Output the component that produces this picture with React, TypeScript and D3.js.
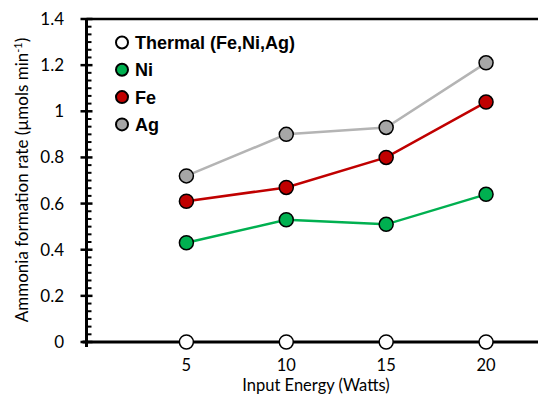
import React from "react";
import * as d3 from "d3";

const energies = [5, 10, 15, 20];
const thermal = [0, 0, 0, 0];
const ni = [0.43, 0.53, 0.51, 0.64];
const fe = [0.61, 0.67, 0.8, 1.04];
const ag = [0.72, 0.9, 0.93, 1.21];
const yTicks = [0, 0.2, 0.4, 0.6, 0.8, 1, 1.2, 1.4];
const xTicks = [5, 10, 15, 20];

const series = [
  { name: "Thermal (Fe,Ni,Ag)", values: thermal, fill: "#ffffff", line: "#000000" },
  { name: "Ni", values: ni, fill: "#00b050", line: "#00b050" },
  { name: "Fe", values: fe, fill: "#c00000", line: "#c00000" },
  { name: "Ag", values: ag, fill: "#a6a6a6", line: "#b4b4b4" },
];

export default function App() {
  const W = 538, H = 395;
  const x = d3.scaleLinear().domain([0, 22.6]).range([86.5, 538]);
  const y = d3.scaleLinear().domain([0, 1.4]).range([342, 19]);
  const minor = d3.range(0, 1.4001, 0.2 / 6).filter((v) => Math.abs(Math.round(v / 0.2) * 0.2 - v) > 1e-6);
  const line = d3.line<number>().x((_, i) => x(energies[i])).y((d) => y(d));
  const tickFont = "Lato, 'Open Sans', sans-serif";
  return (
    <svg width={W} height={H} style={{ position: "absolute", left: 0, top: 0 }}>
      <rect width={W} height={H} fill="#fff" />
      {/* top border */}
      <line x1={x(0)} x2={W} y1={y(1.4)} y2={y(1.4)} stroke="#000" strokeWidth={2.5} />
      {/* y axis */}
      <line x1={x(0)} x2={x(0)} y1={y(1.4) - 1} y2={y(0) + 5} stroke="#000" strokeWidth={3} />
      {yTicks.map((t) => (
        <g key={t}>
          <line x1={x(0) - 6} x2={x(0) + 6} y1={y(t)} y2={y(t)} stroke="#000" strokeWidth={2.5} />
          <text x={64} y={y(t) + 6} textAnchor="end" fontFamily={tickFont} fontSize={17} fill="#000">
            {d3.format("~g")(t)}
          </text>
        </g>
      ))}
      {minor.map((t, i) => (
        <line key={i} x1={x(0)} x2={x(0) + 5} y1={y(t)} y2={y(t)} stroke="#000" strokeWidth={2} />
      ))}
      {/* x axis */}
      <line x1={x(0) - 4} x2={W} y1={y(0)} y2={y(0)} stroke="#000" strokeWidth={3} />
      {xTicks.map((t) => (
        <text key={t} x={x(t)} y={371} textAnchor="middle" fontFamily={tickFont} fontSize={16.5} fill="#000">
          {t}
        </text>
      ))}
      <text x={316} y={391} textAnchor="middle" fontFamily={tickFont} fontSize={16.5} fill="#000">
        Input Energy (Watts)
      </text>
      <text
        transform={`translate(28, 180) rotate(-90)`}
        textAnchor="middle"
        fontFamily={tickFont}
        fontSize={17}
        fill="#000"
      >
        Ammonia formation rate (µmols min<tspan dy={-6} fontSize={11}>-1</tspan>
        <tspan dy={6}>)</tspan>
      </text>
      {/* series */}
      {series.map((s) => (
        <g key={s.name}>
          {s.name !== "Thermal (Fe,Ni,Ag)" && (
            <path d={line(s.values) || ""} fill="none" stroke={s.line} strokeWidth={2.5} />
          )}
          {s.values.map((v, i) => (
            <circle key={i} cx={x(energies[i])} cy={y(v)} r={7} fill={s.fill} stroke="#000" strokeWidth={1.5} />
          ))}
        </g>
      ))}
      {/* legend */}
      {series.map((s, i) => (
        <g key={s.name} transform={`translate(122, ${42.5 + i * 27.3})`}>
          <circle cx={0} cy={0} r={6} fill={s.fill} stroke="#000" strokeWidth={2} />
          <text x={13} y={6.5} fontFamily="'Liberation Sans', Arial, sans-serif" fontWeight="bold" fontSize={18} fill="#000">
            {s.name}
          </text>
        </g>
      ))}
    </svg>
  );
}
